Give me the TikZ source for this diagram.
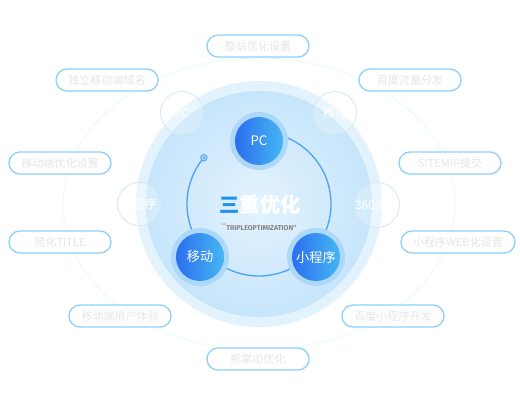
\documentclass[tikz,border=0pt]{standalone}
\usepackage{fontspec}
\setmainfont{Noto Sans CJK SC}
\newfontfamily\subfont{Fira Sans}
\usepackage{tikz}
\usetikzlibrary{positioning}
\usepackage{xcolor}

\definecolor{discout}{HTML}{E2F3FE}
\definecolor{discin}{HTML}{C6E5FB}
\definecolor{disccen}{HTML}{E4F3FE}
\definecolor{ringblue}{HTML}{4DA3F5}
\definecolor{haloblue}{HTML}{AED8F9}
\definecolor{nodeleft}{HTML}{2B6EF0}
\definecolor{noderight}{HTML}{46B7F2}
\definecolor{titleblue}{HTML}{1E90F2}
\definecolor{pillblue}{HTML}{8DD1FA}
\definecolor{pilltext}{HTML}{E6E6E6}
\definecolor{faintcyan}{HTML}{E6FAFC}
\definecolor{ghostline}{HTML}{D3E9F6}
\definecolor{subgray}{HTML}{858585}

\tikzset{
  pill/.style={draw=pillblue, line width=0.75pt, fill=white, rounded corners=0.22cm,
    minimum width=2.04cm, minimum height=0.44cm, inner sep=0pt, text=pilltext,
    font=\fontsize{6.3}{7}\selectfont},
  bignode/.style={circle, minimum size=0.96cm, inner sep=0pt, left color=nodeleft,
    right color=noderight, text=white, font=\fontsize{7.5}{9}\selectfont},
  ghost/.style={circle, draw=ghostline, line width=0.5pt, fill=white, fill opacity=0.25,
    text opacity=1, minimum size=0.86cm, inner sep=0pt, text=white,
    font=\fontsize{6.8}{8}\selectfont},
}

\begin{document}
\begin{tikzpicture}[x=0.02cm, y=-0.02cm]
    \useasboundingbox (0,0) rectangle (520,400);

    % Faint outer orbit
    \draw[faintcyan, line width=0.5pt] (259,204) ellipse[x radius=196, y radius=146];

    % Discs
    \coordinate (rc) at (259,204);
    \fill[discout] (rc) circle[radius=123];
    \shade[inner color=disccen, outer color=discin] (rc) circle[radius=113];

    % Ghost circles
    \node[ghost] (gpc) at (182,113) {PC};
    \node[ghost] (gyd) at (335,113) {移动};
    \node[ghost] (gxcx) at (139,204) {小程序};
    \node[ghost] (g360) at (377,205) {360搜索};

    % Ring with end dot
    \draw[ringblue, line width=0.75pt] (rc) ++(-140:72) coordinate (dot)
        arc[start angle=-140, end angle=-450, radius=72];
    \draw[ringblue, fill=haloblue, line width=0.5pt] (dot) circle[radius=3.2];
    \fill[ringblue] (dot) circle[radius=1.3];

    % Node 1
    \coordinate (pcC) at (259,141);
    \fill[haloblue] (pcC) circle[radius=29];
    \node[bignode] (pc) at (pcC) {PC};

    % Node 2
    \coordinate (ydC) at (200,257);
    \fill[haloblue] (ydC) circle[radius=29];
    \node[bignode] (yd) at (ydC) {移动};

    % Node 3
    \coordinate (xcxC) at (316,257);
    \fill[haloblue] (xcxC) circle[radius=29];
    \node[bignode] (xcx) at (xcxC) {小程序};

    % Title
    \node[font=\fontsize{11.5}{13}\selectfont\bfseries, text=white] (title) at (260,205)
        {{\color{titleblue}三}重优化};
    \node[font=\subfont\fontsize{4}{5}\selectfont\bfseries, text=subgray] (sub) at (259,227)
        {``TRIPLEOPTIMIZATION''};

    % Pills
    \node[pill] (zz) at (258,46) {整站优化设置};
    \node[pill] (dl) at (107,80) {独立移动端域名};
    \node[pill] (bdll) at (410,80) {百度流量分发};
    \node[pill] (ydyh) at (60,163) {移动端优化设置};
    \node[pill] (smap) at (450,163) {SITEMIP提交};
    \node[pill] (jh) at (60,242) {简化TITLE};
    \node[pill, minimum width=2.28cm] (web) at (458,242) {小程序WEB化设置};
    \node[pill] (ty) at (120,316) {移动端用户体验};
    \node[pill] (kf) at (393,316) {百度小程序开发};
    \node[pill] (xz) at (258,359) {熊掌ID优化};
\end{tikzpicture}
\end{document}
